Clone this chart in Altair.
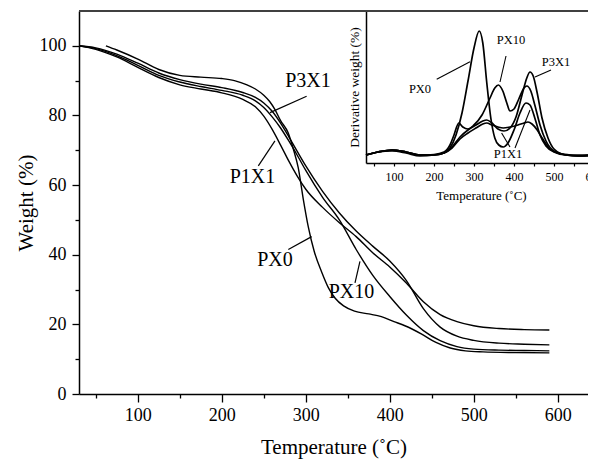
import altair as alt
import pandas as pd

FONT = "Liberation Serif, Times New Roman, serif"

# ---------------- main TGA curves (Weight %) ----------------
T_common = [30, 50, 75, 100, 125, 150, 175, 200, 225, 240, 250, 260, 270, 280, 290,
            300, 320, 340, 360, 380, 400, 420, 440, 460, 480, 500, 530, 560, 590]
p1x1_w = [100, 99.0, 96.8, 93.8, 90.9, 88.8, 87.6, 86.5, 84.6, 82.5, 79.8, 76.0, 71.5, 66.8, 62.5,
          58.8, 53.6, 49.2, 45.2, 40.5, 36.5, 31.8, 26.5, 22.8, 20.8, 19.6, 18.8, 18.5, 18.4]
p3x1_w = [100, 99.4, 97.6, 95.0, 92.2, 90.3, 89.0, 88.0, 86.6, 85.2, 83.6, 81.2, 77.8, 73.8, 69.6,
          65.5, 58.2, 52.0, 46.8, 42.4, 38.2, 32.5, 24.5, 19.2, 16.6, 15.4, 14.6, 14.3, 14.1]
px10_w = [100, 99.2, 97.2, 94.4, 91.5, 89.6, 88.3, 87.2, 85.8, 84.2, 82.3, 79.6, 76.4, 72.6, 68.5,
          64.2, 56.5, 50.0, 41.5, 34.0, 28.0, 22.6, 18.2, 15.3, 13.6, 12.9, 12.6, 12.5, 12.4]
px0_t = [62, 75, 100, 125, 150, 175, 200, 215, 230, 240, 250, 257, 263, 270, 279, 285, 291, 297,
         303, 310, 319, 327, 335, 345, 358, 375, 390, 405, 418, 438, 455, 472, 490, 511, 550, 590]
px0_w = [100, 98.8, 96.2, 93.2, 91.5, 91.0, 90.6, 90.0, 88.8, 87.6, 85.8, 84.0, 81.8, 78.5, 75.0, 70.5, 65.0, 56.0,
         48.0, 41.0, 35.0, 30.5, 27.5, 25.3, 23.8, 23.0, 22.2, 20.8, 19.6, 17.2, 14.8, 13.2, 12.4, 12.1, 11.9, 11.8]

# main annotations
main_lab = ["P3X1", "P1X1", "PX0", "PX10"]
main_lab_t = [302.6, 236.5, 263.3, 354.4]
main_lab_w = [90.0, 62.2, 38.5, 29.3]
main_lead_t1 = [301.0, 243.5, 279.2, 358.6]
main_lead_w1 = [85.5, 65.5, 41.5, 31.9]
main_lead_t2 = [257.4, 263.3, 307.0, 364.5]
main_lead_w2 = [80.8, 72.7, 45.2, 38.1]

# ---------------- inset DTG curves (derivative weight, arbitrary units) ----------------
px0_dt = [30, 60, 95, 130, 165, 200, 225, 240, 255, 270, 285, 300, 313, 322, 332, 342, 352, 362, 373,
          385, 400, 415, 430, 440, 452, 465, 480, 500, 530, 560, 590]
px0_d = [8, 11, 13, 11, 8, 8, 10, 15, 28, 50, 82, 115, 132, 120, 80, 45, 25, 18, 16,
         20, 33, 50, 60, 58, 45, 28, 17, 11, 8, 8, 8]
px10_dt = [30, 60, 95, 130, 165, 200, 225, 240, 250, 262, 272, 285, 300, 320, 340, 352, 361, 372, 382,
           390, 400, 412, 425, 432, 442, 452, 465, 480, 500, 530, 560, 590]
px10_d = [8, 11, 13, 11, 8, 8.5, 11, 18, 28, 40, 36, 34, 38, 48, 65, 75, 78, 72, 60,
          52, 54, 64, 75, 77, 72, 58, 38, 22, 12, 8, 7, 7]
p3x1_dt = [30, 60, 95, 130, 165, 200, 225, 245, 265, 285, 305, 322, 332, 345, 360, 375, 390, 405,
           420, 432, 440, 448, 458, 470, 485, 500, 530, 560, 590]
p3x1_d = [8, 11, 12, 10, 7, 8, 10, 16, 26, 33, 38, 42, 43, 40, 34, 32, 35, 46,
          68, 85, 91, 87, 70, 45, 25, 14, 8, 7, 8]
p1x1_dt = [30, 60, 95, 130, 165, 200, 225, 245, 265, 285, 305, 322, 332, 345, 360, 373, 390, 410,
           425, 435, 445, 458, 472, 490, 510, 540, 570, 590]
p1x1_d = [8, 11, 13, 11, 8, 8, 10, 15, 24, 30, 35, 39, 40, 38, 36, 35, 36, 38,
          40, 41, 39, 33, 24, 14, 10, 8, 7, 8]

ins_lab = ["PX0", "PX10", "P3X1", "P1X1"]
ins_lab_t = [165, 392.5, 505, 385]
ins_lab_d = [74, 123, 101, 9]
ins_lead_t1 = [206.75, 380, 492.5, 402.5, 390]
ins_lead_d1 = [83.7, 107, 93, 15, 16]
ins_lead_t2 = [290, 365, 452.5, 440, 369]
ins_lead_d2 = [101.3, 81, 86, 53, 30]

# ---------------- tables ----------------
rows = []
for name, ws in [("P1X1", p1x1_w), ("P3X1", p3x1_w), ("PX10", px10_w)]:
    rows += [{"T": t, "W": w, "series": name} for t, w in zip(T_common, ws)]
rows += [{"T": t, "W": w, "series": "PX0"} for t, w in zip(px0_t, px0_w)]
main_df = pd.DataFrame(rows)

drows = []
for name, ts, ds in [("PX0", px0_dt, px0_d), ("PX10", px10_dt, px10_d),
                     ("P3X1", p3x1_dt, p3x1_d), ("P1X1", p1x1_dt, p1x1_d)]:
    drows += [{"T": t, "D": d, "series": name} for t, d in zip(ts, ds)]
ins_df = pd.DataFrame(drows)

main_lab_df = pd.DataFrame({"T": main_lab_t, "W": main_lab_w, "label": main_lab})
main_lead_df = pd.DataFrame({"T": main_lead_t1, "W": main_lead_w1, "T2": main_lead_t2, "W2": main_lead_w2})
ins_lab_df = pd.DataFrame({"T": ins_lab_t, "D": ins_lab_d, "label": ins_lab})
ins_lead_df = pd.DataFrame({"T": ins_lead_t1, "D": ins_lead_d1, "T2": ins_lead_t2, "D2": ins_lead_d2})
border_df = pd.DataFrame({"v": [110]})

W_PLOT, H_PLOT = 509, 383

xs = alt.Scale(domain=[30, 636], nice=False, zero=False)
ys = alt.Scale(domain=[0, 110], nice=False, zero=False)

ax_x_major = alt.Axis(orient="bottom", values=[100, 200, 300, 400, 500, 600], tickSize=8, tickWidth=1.3,
                      domainWidth=1.5, labelFontSize=18, labelPadding=4, title="Temperature (˚C)",
                      titleFontSize=21, titlePadding=12, grid=False)
ax_x_minor = alt.Axis(orient="bottom", values=[50, 150, 250, 350, 450, 550], tickSize=4, tickWidth=1.3,
                      domain=False, labels=False, title=None, grid=False)
ax_y_major = alt.Axis(orient="left", values=[0, 20, 40, 60, 80, 100], tickSize=7, tickWidth=1.3,
                      domainWidth=1.5, labelFontSize=18, labelPadding=6, title="Weight (%)",
                      titleFontSize=21, titlePadding=3, grid=False)
ax_y_minor = alt.Axis(orient="left", values=[10, 30, 50, 70, 90], tickSize=4, tickWidth=1.3,
                      domain=False, labels=False, title=None, grid=False)

main_lines = alt.Chart(main_df).mark_line(color="black", strokeWidth=1.4, interpolate="monotone").encode(
    x=alt.X("T:Q", scale=xs, axis=ax_x_major),
    y=alt.Y("W:Q", scale=ys, axis=ax_y_major),
    detail="series:N",
)
minor = alt.Chart(main_df).mark_line(opacity=0).encode(
    x=alt.X("T:Q", scale=xs, axis=ax_x_minor),
    y=alt.Y("W:Q", scale=ys, axis=ax_y_minor),
    detail="series:N",
)
border = alt.Chart(border_df).mark_rule(color="#404040", strokeWidth=2).encode(
    y=alt.Y("v:Q", scale=ys, axis=None)
)
main_text = alt.Chart(main_lab_df).mark_text(font=FONT, fontSize=20, color="black",
                                             align="center", baseline="middle").encode(
    x=alt.X("T:Q", scale=xs, axis=None),
    y=alt.Y("W:Q", scale=ys, axis=None),
    text="label:N",
)
main_leads = alt.Chart(main_lead_df).mark_rule(color="black", strokeWidth=1.2).encode(
    x=alt.X("T:Q", scale=xs, axis=None),
    y=alt.Y("W:Q", scale=ys, axis=None),
    x2="T2:Q",
    y2="W2:Q",
)
main_group = alt.layer(main_lines, minor, border, main_text, main_leads).resolve_axis(
    x="independent", y="independent")

# inset
ixs = alt.Scale(domain=[30, 605], range=[287, 517], nice=False, zero=False)
iys = alt.Scale(domain=[0, 152], range=[152, 0], nice=False, zero=False)

ax_ix = alt.Axis(orient="bottom", offset=-231, values=[50, 100, 150, 200, 250, 300, 350, 400, 450, 500, 550, 600],
                 labelExpr="datum.value % 100 == 0 ? datum.label : ''", tickSize=3, tickWidth=1.2,
                 domainWidth=1.5, labelFontSize=12, labelPadding=5, title="Temperature (˚C)",
                 titleFontSize=13, titlePadding=7, grid=False, labelOverlap=False)
ax_iy = alt.Axis(orient="left", offset=-287, labels=False, ticks=False, domainWidth=1.5,
                 title="Derivative weight (%)", titleFontSize=13.5, titlePadding=5, grid=False)

ins_lines = alt.Chart(ins_df).mark_line(color="black", strokeWidth=1.7, interpolate="monotone").encode(
    x=alt.X("T:Q", scale=ixs, axis=ax_ix),
    y=alt.Y("D:Q", scale=iys, axis=ax_iy),
    detail="series:N",
)
ins_text = alt.Chart(ins_lab_df).mark_text(font=FONT, fontSize=12.5, color="black",
                                           align="center", baseline="middle").encode(
    x=alt.X("T:Q", scale=ixs, axis=None),
    y=alt.Y("D:Q", scale=iys, axis=None),
    text="label:N",
)
ins_leads = alt.Chart(ins_lead_df).mark_rule(color="black", strokeWidth=1.1).encode(
    x=alt.X("T:Q", scale=ixs, axis=None),
    y=alt.Y("D:Q", scale=iys, axis=None),
    x2="T2:Q",
    y2="D2:Q",
)
inset_group = alt.layer(ins_lines, ins_text, ins_leads).resolve_axis(x="independent", y="independent")

chart = alt.layer(main_group, inset_group).resolve_scale(
    x="independent", y="independent"
).properties(
    width=W_PLOT, height=H_PLOT,
    autosize=alt.AutoSizeParams(type="none"),
    padding={"left": 71, "top": 3, "right": 0, "bottom": 70},
    background="white",
).configure_view(stroke=None).configure_axis(
    labelFont=FONT, titleFont=FONT, titleFontWeight="normal", labelColor="black",
    titleColor="black", domainColor="black", tickColor="black",
)

chart.save("out.html", embed_options={"renderer": "svg", "actions": False})
